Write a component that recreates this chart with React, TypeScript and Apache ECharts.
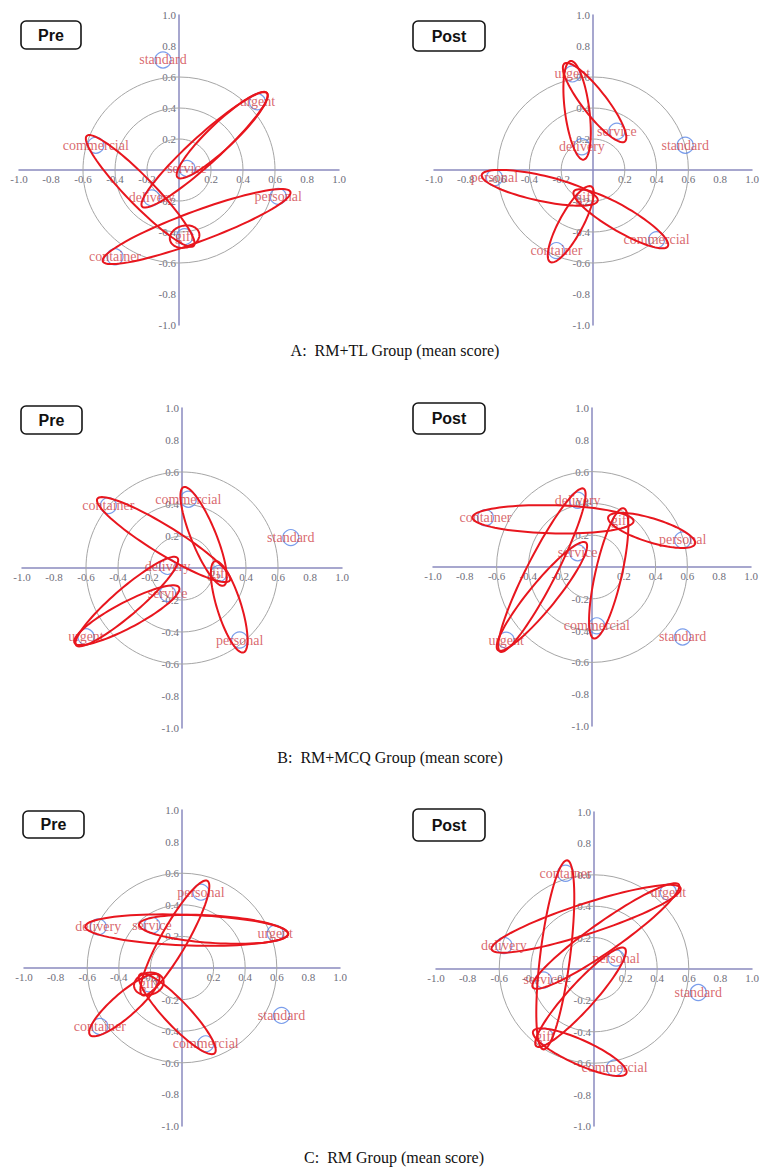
import React, { useEffect, useRef } from "react";
import * as echarts from "echarts";

// ---- data ----
const words = ["standard", "urgent", "commercial", "service", "delivery", "personal", "gift", "container"];
const tickValues = [-1.0, -0.8, -0.6, -0.4, -0.2, 0.2, 0.4, 0.6, 0.8, 1.0];
const ringRadii = [0.2, 0.4, 0.6];

const aPreX = [-0.1, 0.49, -0.52, 0.05, -0.17, 0.62, 0.035, -0.4];
const aPreY = [0.71, 0.44, 0.16, 0.01, -0.18, -0.17, -0.43, -0.56];
const aPostX = [0.58, -0.13, 0.4, 0.15, -0.07, -0.62, -0.05, -0.23];
const aPostY = [0.16, 0.62, -0.45, 0.25, 0.15, -0.05, -0.18, -0.52];
const bPreX = [0.68, -0.6, 0.04, -0.09, -0.09, 0.36, 0.23, -0.46];
const bPreY = [0.19, -0.43, 0.43, -0.16, 0.01, -0.45, -0.035, 0.39];
const bPostX = [0.57, -0.54, 0.03, -0.09, -0.09, 0.57, 0.18, -0.67];
const bPostY = [-0.44, -0.46, -0.37, 0.09, 0.42, 0.17, 0.29, 0.31];
const cPreX = [0.63, 0.59, 0.15, -0.19, -0.53, 0.12, -0.21, -0.52];
const cPreY = [-0.3, 0.22, -0.48, 0.27, 0.26, 0.48, -0.1, -0.37];
const cPostX = [0.66, 0.47, 0.13, -0.32, -0.57, 0.14, -0.31, -0.18];
const cPostY = [-0.15, 0.49, -0.63, -0.07, 0.15, 0.07, -0.43, 0.61];

const aPreLinks = [["urgent", "delivery"], ["urgent", "service"], ["commercial", "gift"], ["personal", "container"], ["gift", "gift"]];
const aPostLinks = [["urgent", "delivery"], ["urgent", "service"], ["personal", "gift"], ["gift", "commercial"], ["gift", "container"]];
const bPreLinks = [["container", "gift"], ["commercial", "gift"], ["gift", "personal"], ["urgent", "delivery"], ["urgent", "service"]];
const bPostLinks = [["container", "gift"], ["gift", "personal"], ["delivery", "urgent"], ["service", "urgent"], ["gift", "commercial"]];
const cPreLinks = [["delivery", "urgent"], ["service", "urgent"], ["personal", "gift"], ["gift", "container"], ["gift", "commercial"], ["gift", "gift"]];
const cPostLinks = [["container", "gift"], ["delivery", "urgent"], ["urgent", "service"], ["gift", "personal"], ["gift", "commercial"]];

const captions = ["A:  RM+TL Group (mean score)", "B:  RM+MCQ Group (mean score)", "C:  RM Group (mean score)"];

// ---- layout ----
const panels = [
  { tag: "Pre", xs: aPreX, ys: aPreY, links: aPreLinks, cx: 179, cy: 170, ux: 160, uy: 155, box: [21, 21, 60, 28] },
  { tag: "Post", xs: aPostX, ys: aPostY, links: aPostLinks, cx: 593, cy: 170, ux: 159, uy: 155, box: [413, 21, 72, 30] },
  { tag: "Pre", xs: bPreX, ys: bPreY, links: bPreLinks, cx: 182, cy: 568, ux: 160, uy: 160, box: [21, 406, 61, 28] },
  { tag: "Post", xs: bPostX, ys: bPostY, links: bPostLinks, cx: 592, cy: 567, ux: 159, uy: 159, box: [413, 403, 72, 31] },
  { tag: "Pre", xs: cPreX, ys: cPreY, links: cPreLinks, cx: 182, cy: 968, ux: 158, uy: 158, box: [23, 811, 61, 27] },
  { tag: "Post", xs: cPostX, ys: cPostY, links: cPostLinks, cx: 594, cy: 969, ux: 158, uy: 157, box: [413, 809, 72, 32] },
];
const captionPos = [
  [395, 350],
  [390, 757],
  [394, 1157],
];

const SERIF = "'Liberation Serif', 'Times New Roman', serif";

const fmtTick = (v: number) => {
  if (Math.abs(v) < 1e-9) return "";
  const hit = tickValues.find((t) => Math.abs(t - v) < 1e-6);
  return hit === undefined ? "" : hit.toFixed(1);
};

function buildOption() {
  const grid: any[] = [];
  const xAxis: any[] = [];
  const yAxis: any[] = [];
  const series: any[] = [];
  const graphic: any[] = [];

  panels.forEach((p, i) => {
    grid.push({ left: p.cx - p.ux, top: p.cy - p.uy, width: 2 * p.ux, height: 2 * p.uy, containLabel: false });
    const axisCommon = {
      gridIndex: i,
      type: "value",
      min: -1,
      max: 1,
      interval: 0.2,
      splitLine: { show: false },
      axisTick: { show: false },
      axisLine: { onZero: false, lineStyle: { color: "#8a8abf", width: 1.5 } },
      axisLabel: {
        formatter: fmtTick,
        fontFamily: SERIF,
        fontSize: 11,
        color: "#6e6e7a",
        showMinLabel: true,
        showMaxLabel: true,
        hideOverlap: false,
      },
    };
    xAxis.push({ ...axisCommon, position: "bottom", offset: -p.uy, axisLabel: { ...axisCommon.axisLabel, margin: 3 } });
    yAxis.push({ ...axisCommon, position: "left", offset: -p.ux, axisLabel: { ...axisCommon.axisLabel, margin: 3 } });

    // concentric reference rings
    series.push({
      type: "custom",
      xAxisIndex: i,
      yAxisIndex: i,
      z: 1,
      silent: true,
      data: ringRadii.map((r) => [0, 0, r]),
      renderItem: (params: any, api: any) => {
        const c = api.coord([api.value(0), api.value(1)]);
        const s = api.size([api.value(2), api.value(2)]);
        return {
          type: "ellipse",
          shape: { cx: c[0], cy: c[1], rx: s[0], ry: s[1] },
          style: { fill: "none", stroke: "#a6a6a6", lineWidth: 1 },
        };
      },
    });

    // word points
    series.push({
      type: "scatter",
      xAxisIndex: i,
      yAxisIndex: i,
      z: 2,
      symbol: "circle",
      symbolSize: 16,
      itemStyle: { color: "rgba(0,0,0,0)", borderColor: "#5a86e6", borderWidth: 1.2 },
      label: {
        show: true,
        position: "inside",
        formatter: "{b}",
        color: "#cf434a",
        fontFamily: SERIF,
        fontSize: 14,
      },
      data: words.map((w, k) => ({ name: w, value: [p.xs[k], p.ys[k]] })),
    });

    // red ellipses linking pairs
    const linkData = p.links.map(([a, b]) => {
      const ia = words.indexOf(a);
      const ib = words.indexOf(b);
      return [p.xs[ia], p.ys[ia], p.xs[ib], p.ys[ib]];
    });
    series.push({
      type: "custom",
      xAxisIndex: i,
      yAxisIndex: i,
      z: 3,
      silent: true,
      data: linkData,
      renderItem: (params: any, api: any) => {
        const p1 = api.coord([api.value(0), api.value(1)]);
        const p2 = api.coord([api.value(2), api.value(3)]);
        const dx = p2[0] - p1[0];
        const dy = p2[1] - p1[1];
        const len = Math.sqrt(dx * dx + dy * dy);
        const mx = (p1[0] + p2[0]) / 2;
        const my = (p1[1] + p2[1]) / 2;
        let ux = 1, uy = 0, a = 15, b = 11;
        if (len > 1) {
          ux = dx / len;
          uy = dy / len;
          a = len / 2 + 13;
          b = 10 + len * 0.03;
        } else {
          ux = 0.97;
          uy = -0.24;
        }
        const vx = -uy, vy = ux;
        const pts: number[][] = [];
        const n = 90;
        for (let k = 0; k < n; k++) {
          const t = (k / n) * Math.PI * 2;
          const ca = Math.cos(t) * a;
          const sb = Math.sin(t) * b;
          pts.push([mx + ca * ux + sb * vx, my + ca * uy + sb * vy]);
        }
        return {
          type: "polygon",
          shape: { points: pts },
          style: { fill: "none", stroke: "#e8161e", lineWidth: 2 },
        };
      },
    });

    // Pre / Post box
    const [bx, by, bw, bh] = p.box;
    graphic.push({
      type: "rect",
      shape: { x: bx, y: by, width: bw, height: bh, r: 5 },
      style: { fill: "#ffffff", stroke: "#151515", lineWidth: 1.6 },
      z: 10,
    });
    graphic.push({
      type: "text",
      x: bx + bw / 2,
      y: by + bh / 2,
      z: 11,
      style: {
        text: p.tag,
        font: 'bold 16px "Liberation Sans", Arial, sans-serif',
        fill: "#111",
        align: "center",
        verticalAlign: "middle",
        textAlign: "center",
        textVerticalAlign: "middle",
      },
    });
  });

  captions.forEach((c, i) => {
    graphic.push({
      type: "text",
      x: captionPos[i][0],
      y: captionPos[i][1],
      style: {
        text: c,
        font: '16px "Liberation Serif", serif',
        fill: "#111",
        align: "center",
        verticalAlign: "middle",
        textAlign: "center",
        textVerticalAlign: "middle",
      },
    });
  });

  return {
    animation: false,
    backgroundColor: "#ffffff",
    grid,
    xAxis,
    yAxis,
    series,
    graphic,
  };
}

export default function App() {
  const ref = useRef<HTMLDivElement>(null);
  useEffect(() => {
    document.body.style.margin = "0";
    if (!ref.current) return;
    const chart = echarts.init(ref.current, null, { renderer: "svg" });
    chart.setOption(buildOption() as any);
    return () => chart.dispose();
  }, []);
  return <div ref={ref} style={{ width: 775, height: 1173 }} />;
}
